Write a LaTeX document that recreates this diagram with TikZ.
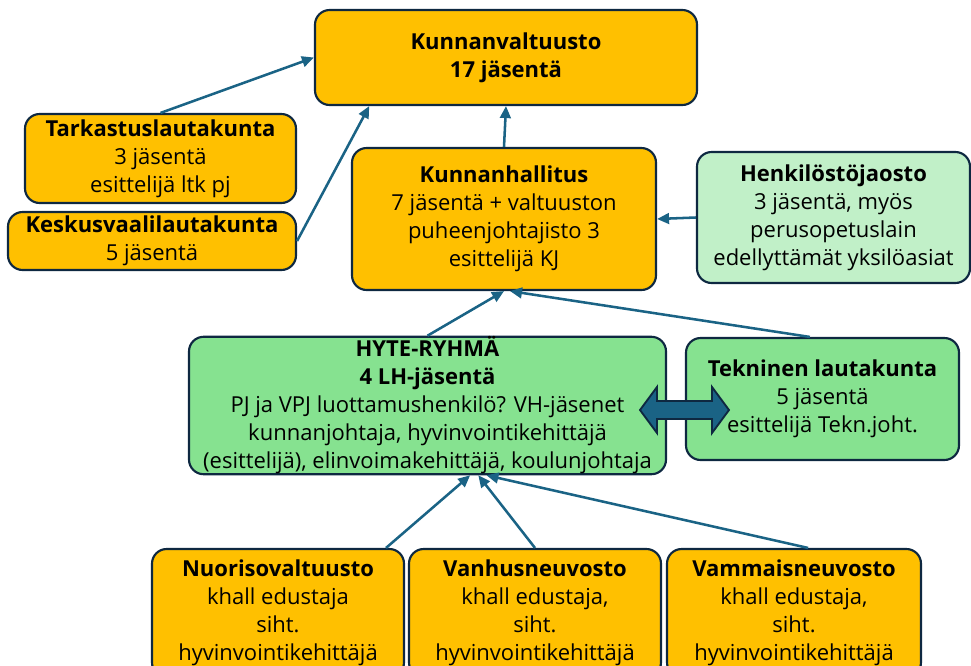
\documentclass[tikz,border=0pt]{standalone}
\usepackage{fontspec}
\setmainfont{Open Sans}[Ligatures=NoCommon]
\usetikzlibrary{calc,arrows.meta}
\definecolor{org}{HTML}{FFC000}
\definecolor{grn}{HTML}{86E290}
\definecolor{lgrn}{HTML}{C1F0C8}
\definecolor{bord}{HTML}{0E2841}
\definecolor{arr}{HTML}{1A6385}
\begin{document}
\begin{tikzpicture}[x=0.75pt,y=-0.75pt,
  box/.style={draw=bord, line width=1.6pt, rounded corners=11pt, align=center, inner sep=0pt,
    font=\fontsize{16.5}{21}\selectfont},
  sz/.style 2 args={minimum width=#1*0.75pt, minimum height=#2*0.75pt},
  conn/.style={draw=arr, line width=1.9pt, -{Triangle[length=9pt,width=8pt]}},
  fat/.style={draw=bord, fill=arr, line width=1.4pt, line join=miter}]
\useasboundingbox (0,0) rectangle (971,665);

\node[box, fill=org, sz={382}{95}] (kv) at (506,57.5) {\textbf{Kunnanvaltuusto}\\\textbf{17 jäsentä}};
\node[box, fill=org, sz={271}{89}] (tark) at (160.5,158.5) {\textbf{Tarkastuslautakunta}\\3 jäsentä\\esittelijä ltk pj};
\node[box, fill=org, sz={288}{58}] (kesk) at (152,241) {\textbf{Keskusvaalilautakunta}\\5 jäsentä};
\node[box, fill=org, sz={304}{142}] (kh) at (504,219) {\textbf{Kunnanhallitus}\\7 jäsentä + valtuuston\\puheenjohtajisto 3\\esittelijä KJ};
\node[box, fill=lgrn, sz={273}{131}] (hen) at (833.5,217.5) {\textbf{Henkilöstöjaosto}\\3 jäsentä, myös\\perusopetuslain\\edellyttämät yksilöasiat};
\node[box, fill=grn, sz={477}{135}] (hyte) at (427.5,405.5) {\textbf{HYTE-RYHMÄ}\\\textbf{4 LH-jäsentä}\\PJ ja VPJ luottamushenkilö? VH-jäsenet\\kunnanjohtaja, hyvinvointikehittäjä\\(esittelijä), elinvoimakehittäjä, koulunjohtaja};
\node[box, fill=grn, sz={273}{122}] (tek) at (822.5,399) {\textbf{Tekninen lautakunta}\\5 jäsentä\\esittelijä Tekn.joht.};
\node[box, fill=org, sz={252}{128}] (nuor) at (278,613) {\textbf{Nuorisovaltuusto}\\khall edustaja\\siht.\\hyvinvointikehittäjä};
\node[box, fill=org, sz={252}{128}] (vanh) at (535,613) {\textbf{Vanhusneuvosto}\\khall edustaja,\\siht.\\hyvinvointikehittäjä};
\node[box, fill=org, sz={254}{128}] (vamm) at (794,613) {\textbf{Vammaisneuvosto}\\khall edustaja,\\siht.\\hyvinvointikehittäjä};

\draw[conn] (tark.north) -- (kv.west);
\draw[conn] (kesk.east) -- ($(kv.south west)!0.144!(kv.south east)$);
\draw[conn] (kh.north) -- (kv.south);
\draw[conn] (hen.west) -- (kh.east);
\draw[conn] (hyte.north) -- (kh.south);
\draw[conn] ($(tek.north west)!0.454!(tek.north east)$) -- ($(kh.south)+(6,0)$);
\draw[conn] ($(nuor.north west)!0.925!(nuor.north east)$) -- ($(hyte.south west)!0.589!(hyte.south east)$);
\draw[conn] (vanh.north) -- ($(hyte.south west)!0.606!(hyte.south east)$);
\draw[conn] ($(vamm.north west)!0.555!(vamm.north east)$) -- ($(hyte.south west)!0.623!(hyte.south east)$);

\coordinate (dl) at (640,410);
\coordinate (dr) at (729,410);
\draw[fat] (dl) -- ++(17,-23) -- ++(0,14) -- ($(dr)+(-17,-9)$) -- ++(0,-14) -- (dr)
  -- ++(-17,23) -- ++(0,-14) -- ($(dl)+(17,9)$) -- ++(0,14) -- cycle;
\end{tikzpicture}
\end{document}
